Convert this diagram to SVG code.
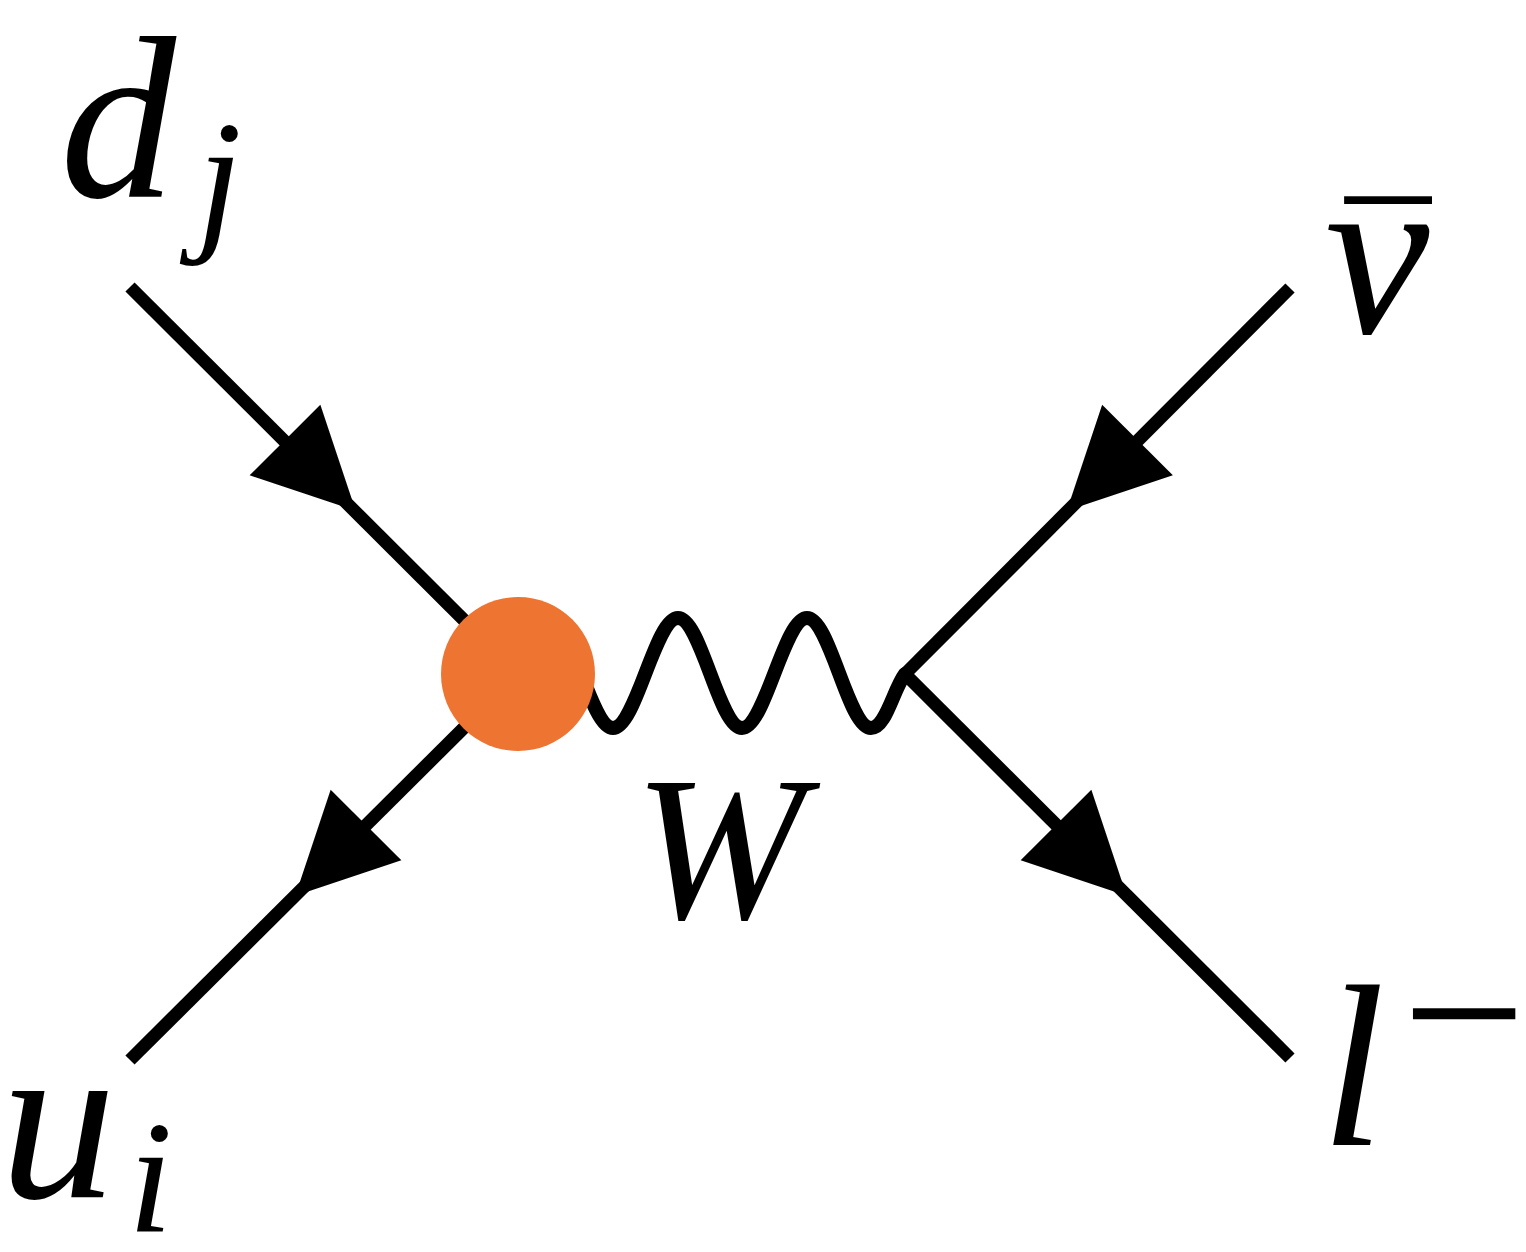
<svg xmlns="http://www.w3.org/2000/svg" xmlns:xlink="http://www.w3.org/1999/xlink" width="1526" height="1252" viewBox="0 0 1526 1252">
<style>
.ln{stroke:#000;stroke-width:13;fill:none;stroke-linecap:butt}
.wv{stroke:#000;stroke-width:14;fill:none;stroke-linecap:round}
.lbl{font-family:"Liberation Serif","Times New Roman",serif;font-style:italic;fill:#000}
.up{font-family:"Liberation Serif","Times New Roman",serif;font-style:normal;fill:#000}
</style>
<defs>
<path id="ah" d="M0,0 L-100,-50 L-100,50 Z" fill="#000"/>
</defs>
<rect width="1526" height="1252" fill="#fff"/>
<g id="connectors">
<line class="ln" x1="130" y1="287" x2="518" y2="674"/>
<line class="ln" x1="130" y1="1060" x2="518" y2="674"/>
<line class="ln" x1="1290" y1="288" x2="905" y2="674"/>
<line class="ln" x1="1290" y1="1058" x2="905" y2="674"/>
<path class="wv" d="M549,618 C572,618 590,728 613,728 C636,728 655,618 678,618 C701,618 719,728 742,728 C765,728 784,618 807,618 C830,618 848,728 871,728 C886,728 893,690 905,674"/>
<use xlink:href="#ah" transform="translate(355.7,510.7) rotate(45)"/>
<use xlink:href="#ah" transform="translate(295.3,895.7) rotate(135)"/>
<use xlink:href="#ah" transform="translate(1066.8,510.7) rotate(135)"/>
<use xlink:href="#ah" transform="translate(1126.7,895.7) rotate(45)"/>
</g>
<g id="vertex">
<circle cx="518" cy="674" r="77" fill="#ED7431"/>
</g>
<g id="label-dj">
<text class="lbl" x="60" y="197" font-size="232">d<tspan x="197" y="232" font-size="161">j</tspan></text>
</g>
<g id="label-ui">
<text class="lbl" x="0" y="1197" font-size="232">u<tspan x="128" y="1232" font-size="161">i</tspan></text>
</g>
<g id="label-nubar">
<text class="lbl" x="1325" y="333" font-size="235">ν<tspan class="up" x="1388" y="324" font-size="170" text-anchor="middle">¯</tspan></text>
</g>
<g id="label-W">
<text class="lbl" x="634" y="918" font-size="205">W</text>
</g>
<g id="label-l">
<text class="lbl" x="1321" y="1145" font-size="230">l<tspan class="up" x="1402" y="1087" font-size="220">−</tspan></text>
</g>
</svg>
